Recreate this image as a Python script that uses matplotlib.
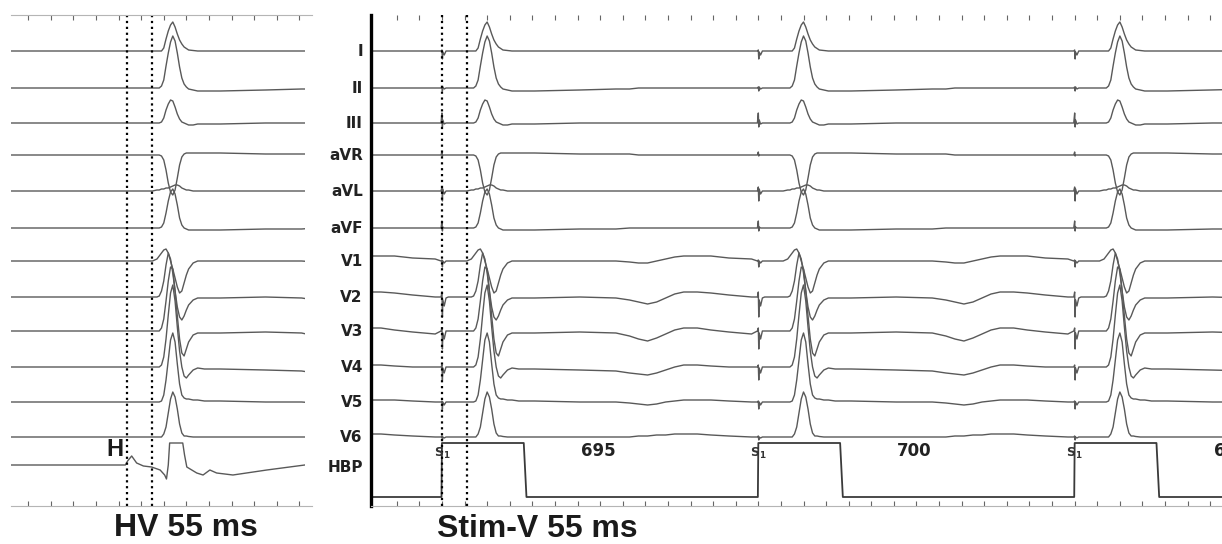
import numpy as np
import matplotlib.pyplot as plt
from matplotlib.patches import Rectangle
from matplotlib.transforms import blended_transform_factory

plt.rcParams['font.family'] = ['Liberation Sans', 'DejaVu Sans']

# ---- data (times in ms, amplitudes in px, up = positive) ----
leads = ['I', 'II', 'III', 'aVR', 'aVL', 'aVF', 'V1', 'V2', 'V3', 'V4', 'V5', 'V6']

# QRS template, time relative to ventricular onset
qrs_t = [0, 10, 15, 20, 25, 30, 35, 40, 45, 50, 55, 60, 65, 70, 75, 80, 90, 100, 115]
qrs_amp = [
    [0, 0, 0, 0, 3, 12, 20, 26, 29, 24, 17, 11, 7, 4, 2.5, 1, 0.5, 0, 0],            # I
    [0, 0, 0, 2, 8, 22, 35, 46, 52, 47, 35, 21, 10, 4, 1, -1, -2, -3, -3],          # II
    [0, 0, 0, 1, 5, 13, 19, 23, 22, 16, 9, 4, 1, 0, -1, -2, -2, -1, -1],            # III
    [0, 0, 0, -1, -5, -15, -28, -37, -40, -35, -23, -10, -2, 1, 2, 2, 2, 2, 2],     # aVR
    [0, 1, 1, 2, 2, 3, 3, 4, 5, 6, 6, 5, 3, 2, 1, 1, 0, 0, 0],                      # aVL
    [0, 0, 0, 1, 5, 15, 27, 36, 39, 34, 23, 10, 3, 0, -1, -2, -2, -2, -2],          # aVF
    [0, 2, 5, 8, 11, 12, 8, 0, -8, -17, -26, -32, -30, -22, -14, -8, -2, 0, 0],     # V1
    [0, 0, 1, 6, 16, 32, 44, 38, 24, 6, -10, -20, -23, -19, -13, -8, -3, -1, -1],   # V2
    [0, 0, 0, 3, 12, 30, 50, 64, 62, 40, 15, -8, -22, -25, -18, -11, -4, -2, -2],   # V3
    [0, 0, 0, 2, 10, 28, 52, 74, 82, 66, 40, 16, 0, -9, -11, -8, -3, -1, -2],       # V4
    [0, 0, 0, 1, 7, 22, 42, 62, 69, 60, 38, 18, 7, 4, 3, 3, 2, 2, 1],               # V5
    [0, 0, 0, 0, 3, 10, 24, 38, 45, 40, 28, 13, 4, 1, 1, 0.5, 0, 0, 0],             # V6
]

# repolarisation, time relative to ventricular onset
twave_t = [150, 250, 330, 360, 380, 400, 420, 440, 460, 480, 510, 540, 580, 630]
twave_amp = [
    [0, 0, 0, 0, 0, 0, 0, 0, 0, 0, 0, 0, 0, 0],                    # I
    [-3, -2, -1, -1, 0, 0, 0, 0, 0, 0, 0, 0, 0, 0],                # II
    [-1, 0, 0, 0, 0, 0, 0, 0, 0, 0, 0, 0, 0, 0],                   # III
    [2, 1, 1, 1, 0, 0, 0, 0, 0, 0, 0, 0, 0, 0],                    # aVR
    [0, 0, 0, 0, 0, 0, 0, 0, 0, 0, 0, 0, 0, 0],                    # aVL
    [-2, -1, -1, 0, 0, 0, 0, 0, 0, 0, 0, 0, 0, 0],                 # aVF
    [0, 0, 0, -1, -2, -2, 0, 2, 4, 5, 5, 5, 3, 2],                 # V1
    [-1, 0, -1, -3, -5, -7, -5, -1, 3, 5, 5, 4, 2, 0],             # V2
    [-2, -1, -2, -5, -8, -10, -7, -3, 1, 3, 3, 1, -1, -3],         # V3
    [-2, -3, -4, -6, -7, -8, -6, -3, 0, 2, 2, 1, 0, 0],            # V4
    [1, 0, 0, -1, -2, -3, -2, 0, 1, 2, 2, 2, 1, 0],                # V5
    [0, 0, 0, 0, 1, 1, 2, 2, 3, 3, 3, 2, 1, 0],                    # V6
]

# pacing artefact, time relative to stimulus
stim_art_t = [-2, 0, 1, 2, 5, 9, 14]
stim_art_amp = [
    [0, 1, -8, -1, -4, 0, 0],
    [0, 1, -3, 1, -1, 0, 0],
    [0, 10, -4, 3, -1, 0, 0],
    [0, 3, -1, 0, 0, 0, 0],
    [0, 4, -10, 2, -3, 0, 0],
    [0, 7, -3, 1, 0, 0, 0],
    [0, 1, -6, 0, -2, 0, 0],
    [0, 5, -20, -3, -9, -1, 0],
    [0, 3, -18, -2, -8, 0, 0],
    [0, 2, -13, -1, -6, 0, 0],
    [0, 1, -7, 0, -3, 0, 0],
    [0, 1, -3, 0, -1, 0, 0],
]

# left panel: conducted beat with His electrogram
h_time = 218
v_time = 275
his_t = [-38, 215, 220, 229, 240, 255, 273, 292, 302, 306, 310, 313, 342, 346, 351,
         373, 387, 402, 417, 453, 528, 612]
his_amp = [0, 0, 4, 9, 2, -1, -2, -5, -10, -14, 0, 22, 22, 10, -2,
           -8, -10, -5, -8, -10, -5, 0]

# right panel: His bundle pacing
prev_stim = -600
stim_times = [100, 800, 1500]
stim_v = 55
cycle_labels = ['695', '700', '695']
pulse_t = [-1, 0, 181, 187]
pulse_amp = [0, 54, 54, 0]
trace_end = 1830

# ---- layout (pixel rows of each channel) ----
W, H = 1222, 544
rows = [51, 88, 123, 155, 191, 228, 261, 297, 331, 367, 402, 437]
his_row = 465
hbp_row = 497
trace_col = '#595959'
rec_font = 'DejaVu Sans'

fig = plt.figure(figsize=(W / 100, H / 100), dpi=100)


def px_axes(x0, y0, x1, y1):
    return fig.add_axes([x0 / W, 1 - y1 / H, (x1 - x0) / W, (y1 - y0) / H])


ax_l = px_axes(11, 15, 312, 506)
ax_r = px_axes(371, 15, 1222, 506)
ax_l.set_xlim(-38, 628)
ax_r.set_xlim(-57, 1826)
for ax in (ax_l, ax_r):
    ax.set_ylim(506, 15)
    ax.set_yticks([])
    ax.tick_params(axis='x', top=True, bottom=True, direction='in', length=3.5,
                   width=0.8, colors='#666666', labelbottom=False)
    for s in ax.spines.values():
        s.set_color('#b5b5b5')
        s.set_linewidth(0.8)
    ax.set_facecolor('none')

ax_l.set_xticks(np.arange(0, 629, 50))
ax_r.set_xticks(np.arange(0, 1826, 50))
ax_l.spines['left'].set_visible(False)
ax_l.spines['right'].set_visible(False)
ax_r.spines['top'].set_visible(False)
ax_r.spines['right'].set_visible(False)
ax_r.spines['left'].set_color('black')
ax_r.spines['left'].set_linewidth(2.4)

clip_l = Rectangle((-38, 0), 650, 600, transform=ax_l.transData)
clip_r = Rectangle((-53, 0), 1900, 600, transform=ax_r.transData)

# left panel traces
for i, name in enumerate(leads):
    t = [-38] + [v_time + q for q in qrs_t] + [v_time + q for q in twave_t]
    a = [0] + qrs_amp[i] + twave_amp[i]
    ln, = ax_l.plot(t, rows[i] - np.array(a), color=trace_col, lw=1.0)
    ln.set_clip_path(clip_l)
ln, = ax_l.plot(his_t, his_row - np.array(his_amp), color=trace_col, lw=1.0)
ln.set_clip_path(clip_l)

# right panel traces
all_stims = [prev_stim] + stim_times
for i, name in enumerate(leads):
    t, a = [], []
    for s in all_stims:
        onset = s + stim_v
        t += [s + q for q in stim_art_t] + [onset + q for q in qrs_t] + [onset + q for q in twave_t]
        a += stim_art_amp[i] + qrs_amp[i] + twave_amp[i]
    ln, = ax_r.plot(t, rows[i] - np.array(a), color=trace_col, lw=1.0)
    ln.set_clip_path(clip_r)

t, a = [], []
for s in all_stims:
    t += [s + q for q in pulse_t]
    a += pulse_amp
t.append(trace_end)
a.append(0)
ln, = ax_r.plot(t, hbp_row - np.array(a), color='#3a3a3a', lw=1.3)
ln.set_clip_path(clip_r)

# measurement callipers
for x in (h_time, v_time):
    ax_l.axvline(x, color='black', ls=':', lw=1.6)
for x in (stim_times[0], stim_times[0] + stim_v):
    ax_r.axvline(x, color='black', ls=':', lw=1.6)

# labels
tr = blended_transform_factory(ax_r.transAxes, ax_r.transData)
for i, name in enumerate(leads):
    ax_r.text(-0.0095, rows[i], name, transform=tr, ha='right', va='center',
              fontsize=11, fontweight='bold', color='#222222', family=rec_font)
ax_r.text(-0.0095, 467, 'HBP', transform=tr, ha='right', va='center',
          fontsize=11, fontweight='bold', color='#222222', family=rec_font)

for s, lab in zip(stim_times, cycle_labels):
    ax_r.text(s, 453, r'$\mathbf{S}_{\mathbf{1}}$', ha='center', va='center',
              fontsize=9, color='#333333')
    ax_r.text(s + 346, 451, lab, ha='center', va='center', fontsize=12,
              fontweight='bold', color='#222222', family=rec_font)

ax_l.text(192, 449, 'H', ha='center', va='center', fontsize=17, fontweight='bold',
          color='#1a1a1a')
fig.text(186 / W, 1 - 528 / H, 'HV 55 ms', ha='center', va='center', fontsize=23,
         fontweight='bold', color='#1a1a1a')
fig.text(437 / W, 1 - 529 / H, 'Stim-V 55 ms', ha='left', va='center', fontsize=23,
         fontweight='bold', color='#1a1a1a')

fig.savefig('out.png', dpi=100, facecolor='white')
